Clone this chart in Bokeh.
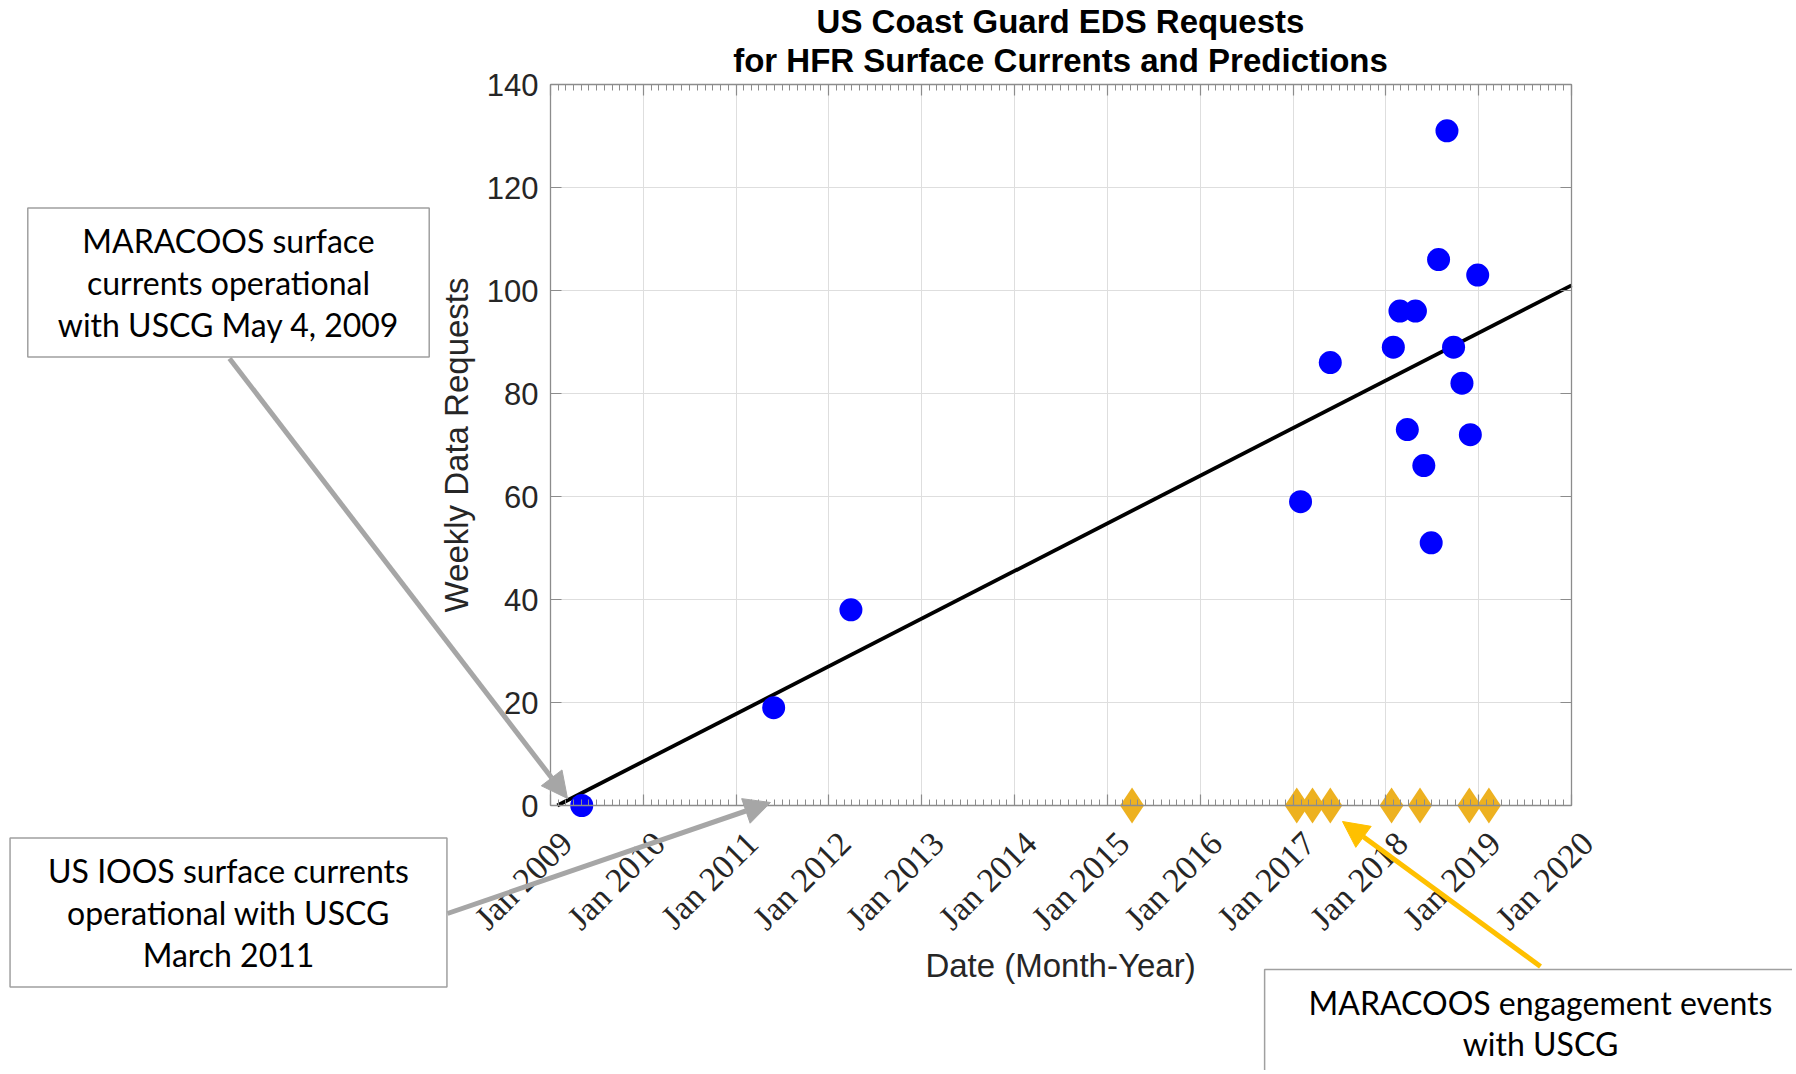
import math
from datetime import datetime
import pandas as pd
from bokeh.plotting import figure
from bokeh.models import (Range1d, FixedTicker, DatetimeAxis, LinearAxis, CustomJSTickFormatter,
                          Label, LabelSet, Arrow, NormalHead, Grid, ColumnDataSource)
from bokeh.embed import file_html
from bokeh.resources import INLINE

# ---------------- data ----------------
title_lines = ["US Coast Guard EDS Requests", "for HFR Surface Currents and Predictions"]
y_label = "Weekly Data Requests"
x_label = "Date (Month-Year)"
tick_years = [2009, 2010, 2011, 2012, 2013, 2014, 2015, 2016, 2017, 2018, 2019, 2020]
tick_labels = ["Jan 2009", "Jan 2010", "Jan 2011", "Jan 2012", "Jan 2013", "Jan 2014",
               "Jan 2015", "Jan 2016", "Jan 2017", "Jan 2018", "Jan 2019", "Jan 2020"]
y_ticks = [0, 20, 40, 60, 80, 100, 120, 140]

request_dates = ["2009-05-04", "2011-05-29", "2012-03-28", "2017-01-30", "2017-05-27",
                 "2018-01-30", "2018-02-25", "2018-03-26", "2018-04-27", "2018-05-30",
                 "2018-06-28", "2018-07-27", "2018-08-29", "2018-09-24", "2018-10-27",
                 "2018-11-29", "2018-12-28"]
request_counts = [0, 19, 38, 59, 86, 89, 96, 73, 96, 66, 51, 106, 131, 89, 82, 72, 103]

engagement_dates = ["2015-04-08", "2017-01-15", "2017-03-18", "2017-05-27",
                    "2018-01-23", "2018-05-15", "2018-11-25", "2019-02-10"]
engagement_level = [0, 0, 0, 0, 0, 0, 0, 0]

trend_dates = ["2009-01-28", "2020-01-01"]
trend_counts = [0, 101]

note_1 = "MARACOOS surface\ncurrents operational\nwith USCG May 4, 2009"
note_2 = "US IOOS surface currents\noperational with USCG\nMarch 2011"
note_3 = "MARACOOS engagement events\nwith USCG"

# ---------------- styling / geometry ----------------
AXC = "#8c8c8c"
TXT = "#262626"
GRID = "#dedede"
GRAY_ARROW = "#a6a6a6"
GOLD_ARROW = "#ffc000"
TICK_FONT = "Liberation Sans"
NOTE_FONT = "Lato"

W, H = 1792, 1070          # canvas, placed at page (0, 0)
PX0, PY0 = 0, 0
# chart box in page pixels
BOX_L, BOX_R, BOX_T, BOX_B = 550, 1571, 84, 805


def ms(d):
    return (d - datetime(1970, 1, 1)).total_seconds() * 1000.0


def sx(page_x):
    return page_x - PX0


def sy(page_y):
    return (PY0 + H) - page_y


x_lo, x_hi = ms(datetime(tick_years[0], 1, 1)), ms(datetime(tick_years[-1], 1, 1))
y_lo, y_hi = y_ticks[0], y_ticks[-1]
mpp = (x_hi - x_lo) / (BOX_R - BOX_L)
upp = (y_hi - y_lo) / (BOX_B - BOX_T)
x_range = Range1d(x_lo - (BOX_L - PX0) * mpp, x_hi + (PX0 + W - BOX_R) * mpp)
y_range = Range1d(y_lo - (PY0 + H - BOX_B) * upp, y_hi + (BOX_T - PY0) * upp)

year_ms = [ms(datetime(y, 1, 1)) for y in tick_years]
month_ms = [ms(datetime(y, m, 1)) for y in tick_years[:-1] for m in range(1, 13)] + [year_ms[-1]]

p = figure(width=W, height=H, output_backend="svg", toolbar_location=None,
           x_axis_location=None, y_axis_location=None,
           x_range=x_range, y_range=y_range, min_border=0)
p.outline_line_color = None
p.background_fill_color = "white"
p.border_fill_color = "white"
p.xgrid.visible = False
p.ygrid.visible = False

xticker = FixedTicker(ticks=year_ms, minor_ticks=month_ms)
yticker = FixedTicker(ticks=y_ticks, minor_ticks=[])
blank = "return ''"


def style_axis(ax, minor=True):
    ax.axis_line_color = AXC
    ax.axis_line_width = 1.3
    ax.major_tick_line_color = AXC
    ax.major_tick_line_width = 1.2
    ax.major_tick_in = 11
    ax.major_tick_out = 0
    if minor:
        ax.minor_tick_line_color = AXC
        ax.minor_tick_line_width = 1
        ax.minor_tick_in = 6
        ax.minor_tick_out = 0
    else:
        ax.minor_tick_line_color = None
    ax.major_label_text_font = TICK_FONT
    ax.major_label_text_font_size = "31px"
    ax.major_label_text_color = TXT
    ax.axis_label_text_font = TICK_FONT
    ax.axis_label_text_font_size = "33px"
    ax.axis_label_text_font_style = "normal"
    ax.axis_label_text_color = TXT


bottom = DatetimeAxis(ticker=xticker, formatter=CustomJSTickFormatter(code=blank),
                      fixed_location=y_lo, bounds=(x_lo, x_hi))
style_axis(bottom)
p.add_layout(bottom, "below")

top = DatetimeAxis(ticker=xticker, formatter=CustomJSTickFormatter(code=blank),
                   fixed_location=y_hi, bounds=(x_lo, x_hi))
style_axis(top)
p.add_layout(top, "above")

left = LinearAxis(ticker=yticker, fixed_location=x_lo, bounds=(y_lo, y_hi), axis_label=y_label)
left.major_label_standoff = 12
left.axis_label_standoff = 9
style_axis(left, minor=False)
p.add_layout(left, "left")

right = LinearAxis(ticker=yticker, formatter=CustomJSTickFormatter(code=blank),
                   fixed_location=x_hi, bounds=(y_lo, y_hi))
style_axis(right, minor=False)
p.add_layout(right, "right")

gx = Grid(dimension=0, ticker=xticker, bounds=(x_lo, x_hi), cross_bounds=(y_lo, y_hi),
          grid_line_color=GRID, grid_line_width=1)
gy = Grid(dimension=1, ticker=yticker, bounds=(y_lo, y_hi), cross_bounds=(x_lo, x_hi),
          grid_line_color=GRID, grid_line_width=1)
p.add_layout(gx)
p.add_layout(gy)

# rotated date tick labels (Matlab style, anchored right of each tick)
tick_src = ColumnDataSource(dict(x=[datetime(y, 1, 1) for y in tick_years],
                                 y=[y_lo] * len(tick_years), text=tick_labels))
p.add_layout(LabelSet(x="x", y="y", text="text", source=tick_src, angle=math.pi / 4,
                      x_offset=16, y_offset=-32, text_align="right", text_baseline="middle",
                      text_font=TICK_FONT, text_font_size="34px", text_color=TXT))

# x axis title
p.add_layout(Label(x=sx(1060), y=sy(965), x_units="screen", y_units="screen", text=x_label,
                   text_align="center", text_baseline="middle", text_font=TICK_FONT,
                   text_font_size="33px", text_color=TXT))

# trend line
p.line(pd.to_datetime(trend_dates), trend_counts, line_color="black", line_width=3.8)
# weekly requests
p.scatter(pd.to_datetime(request_dates), request_counts, marker="circle", size=23,
          fill_color="#0000ff", line_color=None)
# engagement events
p.scatter(pd.to_datetime(engagement_dates), engagement_level, marker="diamond", size=36,
          fill_color="#edb120", line_color=None)

# title
for txt, py in zip(title_lines, [21, 60]):
    p.add_layout(Label(x=sx(1060), y=sy(py), x_units="screen", y_units="screen", text=txt,
                       text_align="center", text_baseline="middle", text_font=TICK_FONT,
                       text_font_size="33px", text_font_style="bold", text_color="black"))


def note(text, cx, cy, pad):
    return Label(x=sx(cx), y=sy(cy), x_units="screen", y_units="screen", text=text,
                 text_align="center", text_baseline="middle", text_font=NOTE_FONT,
                 text_font_size="32px", text_line_height=1.076, text_color="black",
                 border_line_color="#a0a0a0", border_line_width=1.5,
                 background_fill_color="white", background_fill_alpha=1, padding=pad)


p.add_layout(note(note_1, 228, 282, dict(left=30, right=30, top=13, bottom=13)))
p.add_layout(note(note_2, 228, 912, dict(left=38, right=38, top=13, bottom=13)))
p.add_layout(note(note_3, 1540, 1036, dict(left=44, right=44, top=13, bottom=40)))


def arrow(x0, y0, x1, y1, color):
    return Arrow(end=NormalHead(size=26, fill_color=color, line_color=color),
                 x_start=sx(x0), y_start=sy(y0), x_end=sx(x1), y_end=sy(y1),
                 start_units="screen", end_units="screen", line_color=color, line_width=5)


p.add_layout(arrow(229, 358, 567, 798, GRAY_ARROW))
p.add_layout(arrow(447, 913, 770, 802, GRAY_ARROW))
p.add_layout(arrow(1540, 966, 1342, 821, GOLD_ARROW))

open("out.html", "w").write(file_html(p, INLINE))
